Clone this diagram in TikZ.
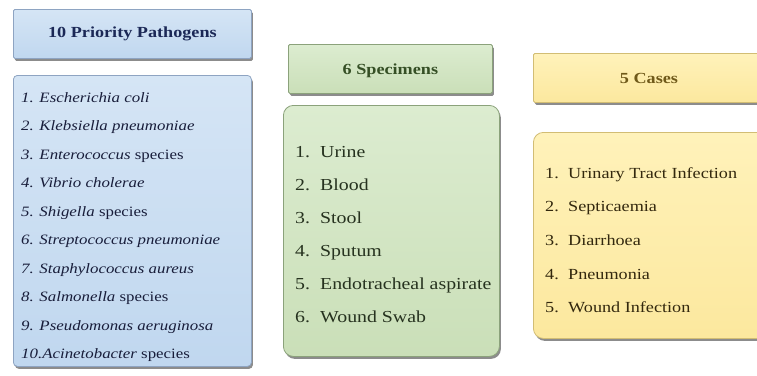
\documentclass[tikz,border=0pt]{standalone}
\usepackage{fontspec}
\setmainfont{Liberation Serif}[FakeStretch=1.18]
\usetikzlibrary{shadows}

\definecolor{bluetop}{HTML}{D5E5F5}
\definecolor{bluebot}{HTML}{C0D7EF}
\definecolor{blueline}{HTML}{8EA4C2}
\definecolor{bluehead}{HTML}{1B2856}
\definecolor{bluetext}{HTML}{181D3A}
\definecolor{greentop}{HTML}{DCECD0}
\definecolor{greenbot}{HTML}{CADFB8}
\definecolor{greenline}{HTML}{8BA27B}
\definecolor{greenhead}{HTML}{354F25}
\definecolor{greentext}{HTML}{26321F}
\definecolor{yellowtop}{HTML}{FFF2BA}
\definecolor{yellowbot}{HTML}{FCE89E}
\definecolor{yellowline}{HTML}{D2BD74}
\definecolor{yellowhead}{HTML}{705A1A}
\definecolor{yellowtext}{HTML}{33280E}

\tikzset{
  panel/.style n args={3}{draw=#3, line width=0.8pt, top color=#1, bottom color=#2,
    drop shadow={shadow xshift=1.5pt, shadow yshift=-2.5pt, fill=black, opacity=0.45},
    anchor=north west, inner sep=0pt},
  headtext/.style={font=\bfseries\fontsize{15.4}{18}\selectfont},
  item/.style={anchor=base west, inner sep=0pt},
}

\begin{document}
\begin{tikzpicture}[x=1pt,y=-1pt]
\useasboundingbox (0,0) rectangle (757,375);
\clip (0,0) rectangle (757,375);

% pathogen column
\node[panel={bluetop}{bluebot}{blueline}, rounded corners=1.5pt,
      minimum width=238pt, minimum height=49pt] (bhead) at (13,9) {};
\node[headtext, text=bluehead] (btitle) at (bhead.center) {10 Priority Pathogens};
\node[panel={bluetop}{bluebot}{blueline}, rounded corners=4pt,
      minimum width=238pt, minimum height=291pt] (blist) at (13,75) {};

\begin{scope}[every node/.style={item, text=bluetext, font=\fontsize{14.3}{17}\selectfont}]
\node (b1)  at (21,102)   {\textit{1. Escherichia coli}};
\node (b2)  at (21,130.5) {\textit{2. Klebsiella pneumoniae}};
\node (b3)  at (21,159)   {\textit{3. Enterococcus} species};
\node (b4)  at (21,187.5) {\textit{4. Vibrio cholerae}};
\node (b5)  at (21,216)   {\textit{5. Shigella} species};
\node (b6)  at (21,244.5) {\textit{6. Streptococcus pneumoniae}};
\node (b7)  at (21,273)   {\textit{7. Staphylococcus aureus}};
\node (b8)  at (21,301.5) {\textit{8. Salmonella} species};
\node (b9)  at (21,330)   {\textit{9. Pseudomonas aeruginosa}};
\node (b10) at (21,358.5) {\textit{10.Acinetobacter} species};
\end{scope}

% specimen column
\node[panel={greentop}{greenbot}{greenline}, rounded corners=1.5pt,
      minimum width=204pt, minimum height=49pt] (ghead) at (288,44) {};
\node[headtext, text=greenhead] (gtitle) at ([yshift=-1.5pt]ghead.center) {6 Specimens};
\node[panel={greentop}{greenbot}{greenline}, rounded corners=10pt,
      minimum width=216pt, minimum height=251pt] (glist) at (283,105) {};

\begin{scope}[every node/.style={item, text=greentext, font=\fontsize{16.8}{20}\selectfont}]
\node (g1) at (295,157) {\makebox[25pt][l]{1.}Urine};
\node (g2) at (295,190) {\makebox[25pt][l]{2.}Blood};
\node (g3) at (295,223) {\makebox[25pt][l]{3.}Stool};
\node (g4) at (295,256) {\makebox[25pt][l]{4.}Sputum};
\node (g5) at (295,289) {\makebox[25pt][l]{5.}Endotracheal aspirate};
\node (g6) at (295,322) {\makebox[25pt][l]{6.}Wound Swab};
\end{scope}

% case column
\node[panel={yellowtop}{yellowbot}{yellowline}, rounded corners=1.5pt,
      minimum width=232pt, minimum height=49pt] (yhead) at (533,53) {};
\node[headtext, text=yellowhead] (ytitle) at (649,78) {5 Cases};
\node[panel={yellowtop}{yellowbot}{yellowline}, rounded corners=10pt,
      minimum width=240pt, minimum height=206pt] (ylist) at (533,132) {};

\begin{scope}[every node/.style={item, text=yellowtext, font=\fontsize{15.4}{18}\selectfont}]
\node (y1) at (545,178)   {\makebox[23pt][l]{1.}Urinary Tract Infection};
\node (y2) at (545,211.7) {\makebox[23pt][l]{2.}Septicaemia};
\node (y3) at (545,245.4) {\makebox[23pt][l]{3.}Diarrhoea};
\node (y4) at (545,279.1) {\makebox[23pt][l]{4.}Pneumonia};
\node (y5) at (545,312.8) {\makebox[23pt][l]{5.}Wound Infection};
\end{scope}
\end{tikzpicture}
\end{document}
